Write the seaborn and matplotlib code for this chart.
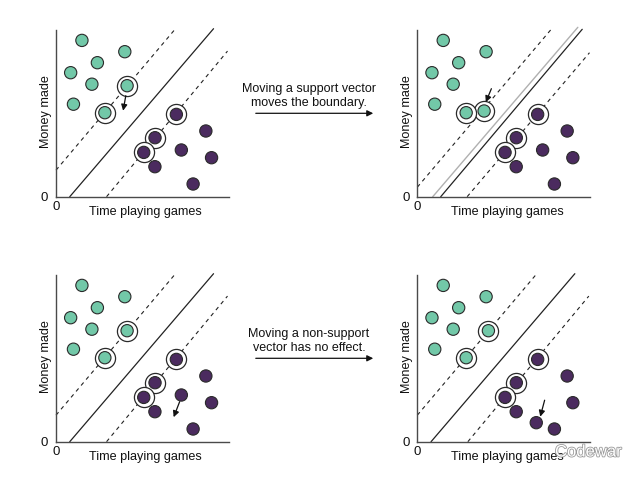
import matplotlib
matplotlib.use("Agg")
import matplotlib.pyplot as plt
import matplotlib.patheffects as pe
import seaborn as sns
import pandas as pd

sns.set_style("white")
plt.rcParams['font.family'] = ['Liberation Sans', 'DejaVu Sans']

# ---- data ----
green_x = [2.6, 6.9, 4.15, 1.47, 3.6, 7.13, 1.75, 4.9]
green_y = [15.63, 14.5, 13.4, 12.4, 11.25, 11.1, 9.25, 8.4]
purple_x = [12.07, 9.93, 8.8, 15.03, 12.57, 15.6, 9.92, 13.75]
purple_y = [8.23, 5.9, 4.43, 6.57, 4.67, 3.9, 3.0, 1.27]
green_sv = [5, 7]
purple_sv = [0, 1, 2]

# moved points
moved_green = (5, 6.7, 8.57)     # panel 2: support vector moved
moved_purple = (4, 11.93, 1.9)   # panel 4: non-support vector moved

# boundary lines (x endpoints, y endpoints)
upper_x, upper_y = [0.0, 12.07], [2.65, 16.9]
solid_x, solid_y = [1.38, 15.8], [0.0, 16.8]
lower_x, lower_y = [5.07, 17.2], [0.0, 14.56]
# panel 2 (after moving a support vector)
p2_upper_x, p2_upper_y = [0.0, 13.6], [0.95, 16.94]
p2_old_x, p2_old_y = [1.55, 16.1], [0.0, 16.94]
p2_new_x, p2_new_y = [2.35, 16.54], [0.0, 16.74]
p2_lower_x, p2_lower_y = [5.0, 17.27], [0.0, 14.4]

# move arrows (from, to)
arrows = {
    0: ((7.0, 10.1), (6.73, 8.6)),
    1: ((7.43, 10.8), (6.87, 9.45)),
    2: ((12.4, 4.0), (11.8, 2.45)),
    3: ((12.77, 4.15), (12.33, 2.5)),
}

mid_texts = ["Moving a support vector\nmoves the boundary.",
             "Moving a non-support\nvector has no effect."]
xlabel = "Time playing games"
ylabel = "Money made"

GREEN = "#72c8a8"
PURPLE = "#4b2b5f"
EDGE = "#2a2a2a"
SPINE = "#4a4a4a"

fig = plt.figure(figsize=(6.4, 4.8), dpi=100)

W, H = 640, 480
def axes_rect(left_px, bottom_px):
    return [left_px / W, (H - bottom_px) / H, 172.5 / W, 170 / H]

rects = [axes_rect(56, 196.7), axes_rect(417.3, 196.7),
         axes_rect(56, 441.7), axes_rect(417.3, 441.7)]

dash = (0, (3.5, 3.5))

for i, r in enumerate(rects):
    ax = fig.add_axes(r)
    gx, gy = list(green_x), list(green_y)
    px_, py_ = list(purple_x), list(purple_y)
    if i == 1:
        k, nx, ny = moved_green
        gx[k], gy[k] = nx, ny
    if i == 3:
        k, nx, ny = moved_purple
        px_[k], py_[k] = nx, ny
    df = pd.DataFrame({
        "x": gx + px_,
        "y": gy + py_,
        "cls": ["g"] * len(gx) + ["p"] * len(px_),
    })
    sv = pd.DataFrame({
        "x": [gx[j] for j in green_sv] + [px_[j] for j in purple_sv],
        "y": [gy[j] for j in green_sv] + [py_[j] for j in purple_sv],
    })

    # lines
    if i == 1:
        ax.plot(p2_upper_x, p2_upper_y, color="#222", lw=0.8, ls=dash, clip_on=False, zorder=1)
        ax.plot(p2_old_x, p2_old_y, color="#b0b0b0", lw=1.0, clip_on=False, zorder=1)
        ax.plot(p2_new_x, p2_new_y, color="#222", lw=0.9, clip_on=False, zorder=1)
        ax.plot(p2_lower_x, p2_lower_y, color="#222", lw=0.8, ls=dash, clip_on=False, zorder=1)
    else:
        ax.plot(upper_x, upper_y, color="#222", lw=0.8, ls=dash, clip_on=False, zorder=1)
        ax.plot(solid_x, solid_y, color="#222", lw=0.9, clip_on=False, zorder=1)
        ax.plot(lower_x, lower_y, color="#222", lw=0.8, ls=dash, clip_on=False, zorder=1)

    # support vector rings
    sns.scatterplot(data=sv, x="x", y="y", ax=ax, s=210, color="white",
                    edgecolor=EDGE, linewidth=0.9, zorder=3, legend=False, clip_on=False)
    # points
    sns.scatterplot(data=df, x="x", y="y", hue="cls", palette={"g": GREEN, "p": PURPLE},
                    ax=ax, s=78, edgecolor=EDGE, linewidth=0.8, zorder=4, legend=False,
                    clip_on=False)

    # arrow
    (x0, y0), (x1, y1) = arrows[i]
    ax.annotate("", xy=(x1, y1), xytext=(x0, y0),
                arrowprops=dict(arrowstyle="-|>", color="#111", lw=0.9,
                                mutation_scale=9, shrinkA=0, shrinkB=0),
                zorder=5)

    ax.set_xlim(0, 17.3)
    ax.set_ylim(0, 17)
    sns.despine(ax=ax)
    ax.spines["left"].set_bounds(0, 16.7)
    for s in ("left", "bottom"):
        ax.spines[s].set_color(SPINE)
        ax.spines[s].set_linewidth(1.0)
    ax.set_xticks([0])
    ax.set_yticks([0])
    ax.set_xticklabels(["0"])
    ax.set_yticklabels(["0"])
    ax.tick_params(axis="both", length=4, width=0.9, color=SPINE, labelsize=9.5,
                   pad=1.5, labelcolor="#111")
    ax.tick_params(axis="x", length=0, pad=3)
    ax.set_xlabel(xlabel, fontsize=9.1, color="#111")
    ax.set_ylabel(ylabel, fontsize=9.1, color="#111")
    ax.xaxis.set_label_coords(0.52, -0.055)
    ax.yaxis.set_label_coords(-0.025, 0.5)
    ax.patch.set_alpha(0)

# middle texts and arrows
fig.text(309 / W, 1 - 96 / H, mid_texts[0], ha="center", va="center",
         fontsize=9, color="#111", linespacing=1.25)
fig.text(309 / W, 1 - 341 / H, mid_texts[1], ha="center", va="center",
         fontsize=9, color="#111", linespacing=1.25)
for yy in (113.3, 358.3):
    fig.add_artist(matplotlib.patches.FancyArrowPatch(
        (253 / W, 1 - yy / H), (376 / W, 1 - yy / H), transform=fig.transFigure,
        arrowstyle="-|>", mutation_scale=9, color="#111", lw=0.9))

# watermark
fig.text(555 / W, 1 - 452 / H, "Codewar", ha="left", va="center", fontsize=12,
         color="white", path_effects=[pe.withStroke(linewidth=1.2, foreground="#9a9a9a")])

fig.savefig("out.png", dpi=100)
